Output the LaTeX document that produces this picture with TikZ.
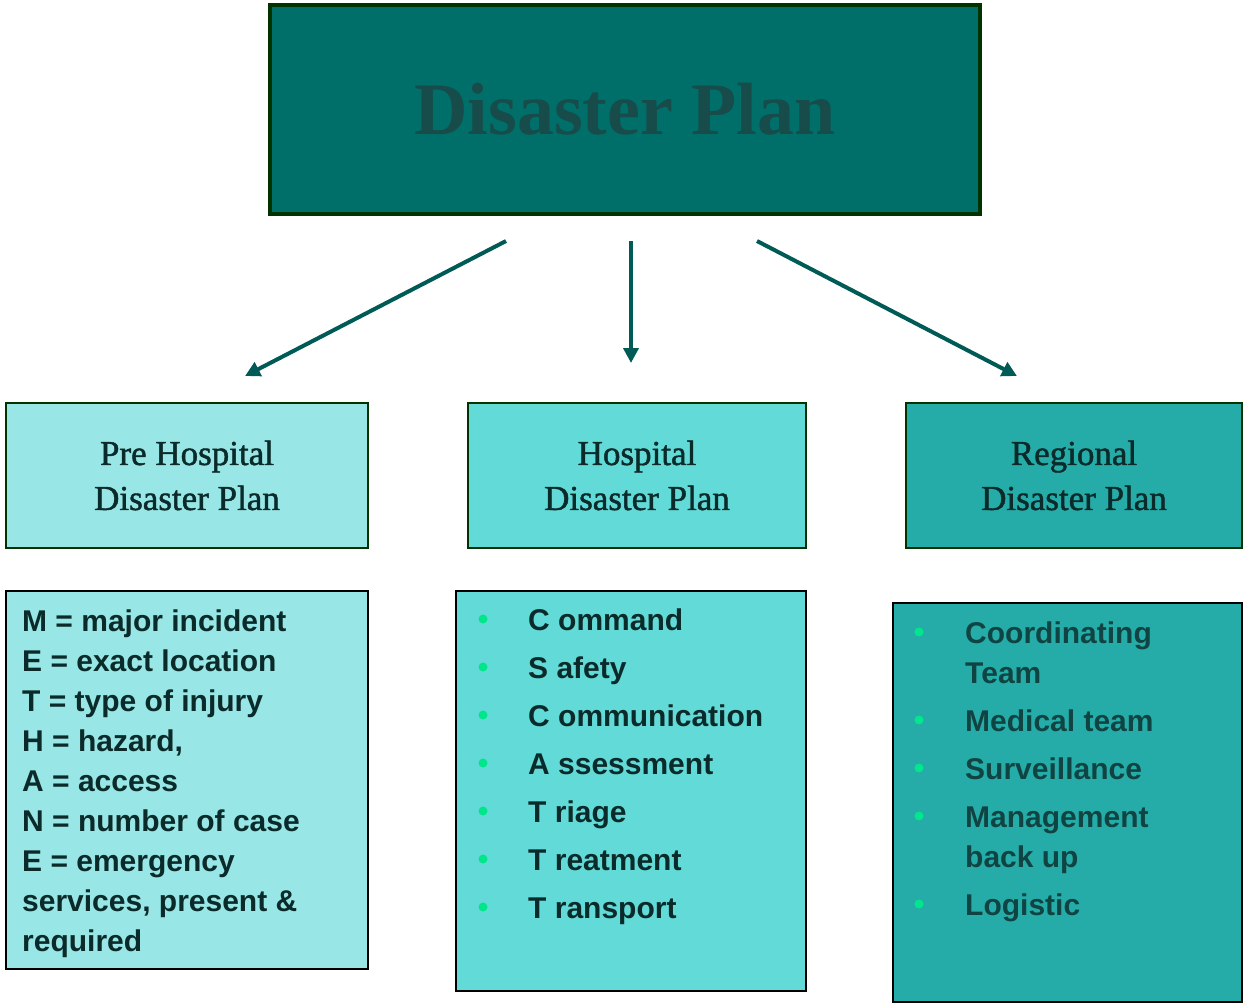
\documentclass[tikz,border=0pt]{standalone}
\usepackage{fontspec}
\setmainfont{Liberation Serif}
\setsansfont{Liberation Sans}
\newfontfamily\semiserif[FakeBold=1.3]{Liberation Serif}
\usetikzlibrary{arrows.meta}

\definecolor{titlefill}{HTML}{006F6A}
\definecolor{titletext}{HTML}{174C4A}
\definecolor{darkframe}{HTML}{003300}
\definecolor{arrowteal}{HTML}{005A55}
\definecolor{prefill}{HTML}{98E6E6}
\definecolor{hospfill}{HTML}{62DAD7}
\definecolor{regfill}{HTML}{26ACA8}
\definecolor{inktext}{HTML}{0B2A2A}
\definecolor{bulletgreen}{HTML}{00E68A}

\tikzset{
  planbox/.style={draw=darkframe, line width=2pt, inner sep=0pt,
    minimum height=145pt, align=center, text=inktext,
    font=\semiserif\fontsize{35}{45}\selectfont},
  listbox/.style={draw=black, line width=2pt, inner sep=0pt},
  listtext/.style={anchor=base west, inner sep=0pt, text=inktext,
    font=\sffamily\bfseries\fontsize{30}{36}\selectfont},
  bullet/.style={fill=bulletgreen},
  arr/.style={draw=arrowteal, line width=4pt,
    -{Triangle[length=15pt,width=15pt]}}
}

\begin{document}
\begin{tikzpicture}[x=1pt, y=-1pt]
\useasboundingbox (0,0) rectangle (1245,1005);

% title
\node[draw=darkframe, line width=4pt, fill=titlefill, minimum width=710pt,
  minimum height=209pt, inner sep=0pt, text=titletext,
  font=\bfseries\fontsize{74}{80}\selectfont] (title) at (625,109.5) {Disaster Plan};

% the three plans
\node[planbox, fill=prefill, minimum width=362pt] (pre) at (187,475.5)
  {Pre Hospital\\Disaster Plan};
\node[planbox, fill=hospfill, minimum width=338pt] (hosp) at (637,475.5)
  {Hospital\\Disaster Plan};
\node[planbox, fill=regfill, minimum width=336pt] (reg) at (1074,475.5)
  {Regional\\Disaster Plan};

\draw[arr] ([xshift=-119pt,yshift=-25pt]title.south) -- ([xshift=58pt,yshift=26pt]pre.north);
\draw[arr] ([xshift=6pt,yshift=-25pt]title.south) -- ([xshift=-6pt,yshift=39pt]hosp.north);
\draw[arr] ([xshift=132pt,yshift=-25pt]title.south) -- ([xshift=-57pt,yshift=26pt]reg.north);

% lists
\node[listbox, fill=prefill, minimum width=362pt, minimum height=378pt] (metha) at (187,780) {};
\node[listbox, fill=hospfill, minimum width=350pt, minimum height=400pt] (csca) at (631,791) {};
\node[listbox, fill=regfill, minimum width=349pt, minimum height=399pt] (regl) at (1067.5,802.5) {};

\foreach \t [count=\i from 0] in {M = major incident, E = exact location,
    T = type of injury, {H = hazard,}, A = access, N = number of case,
    E = emergency, {services, present \&}, required}
  \node[listtext] (m\i) at (22,631+40*\i) {\t};

\foreach \t [count=\i from 0] in {C ommand, S afety, C ommunication,
    A ssessment, T riage, T reatment, T ransport} {
  \fill[bullet] (483,619+48*\i) circle (4.5pt);
  \node[listtext] (c\i) at (528,630+48*\i) {\t};
}

\foreach \y/\t in {643/Coordinating, 683/Team, 731/Medical team,
    779/Surveillance, 827/Management, 867/back up, 915/Logistic}
  \node[listtext, text=inktext!80!regfill] at (965,\y) {\t};
\foreach \y in {632,720,768,816,904}
  \fill[bullet] (919,\y) circle (4.5pt);

\end{tikzpicture}
\end{document}
